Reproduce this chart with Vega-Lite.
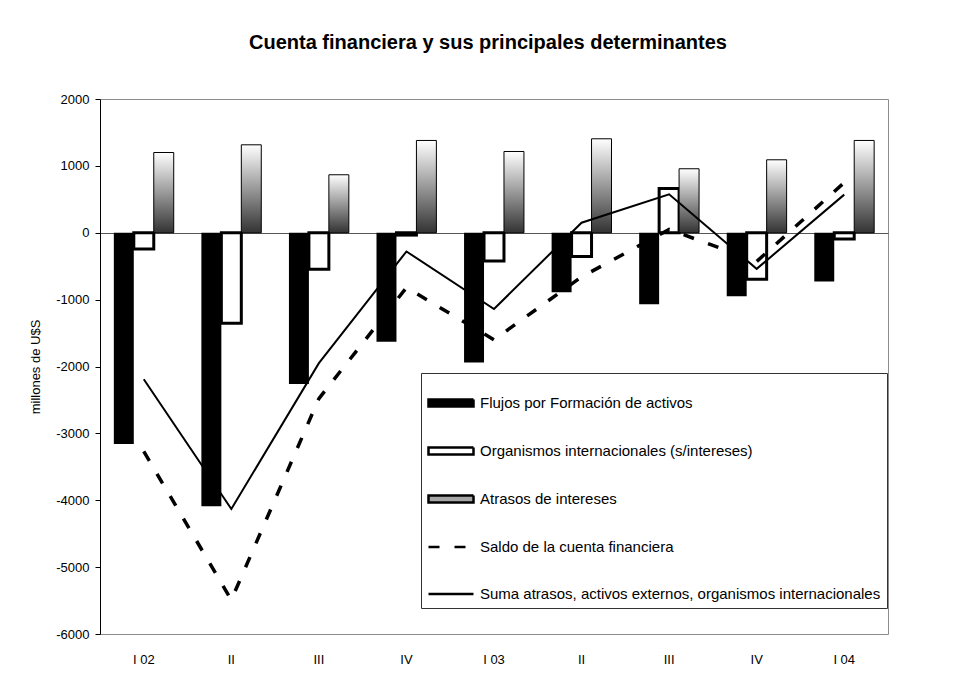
{
  "$schema": "https://vega.github.io/schema/vega-lite/v6.json",
  "width": 788,
  "height": 535,
  "autosize": {"type": "none"},
  "padding": {"left": 100, "top": 99, "right": 85, "bottom": 40},
  "background": "white",
  "title": {
    "text": "Cuenta financiera y sus principales determinantes",
    "font": "Liberation Sans", "fontSize": 20, "fontWeight": "bold", "color": "black",
    "anchor": "middle", "dx": -6, "offset": 40
  },
  "data": {
    "values": [
      {"q": "I 02", "serie": "Flujos por Formación de activos", "v": -3160},
      {"q": "II 02", "serie": "Flujos por Formación de activos", "v": -4090},
      {"q": "III 02", "serie": "Flujos por Formación de activos", "v": -2260},
      {"q": "IV 02", "serie": "Flujos por Formación de activos", "v": -1630},
      {"q": "I 03", "serie": "Flujos por Formación de activos", "v": -1940},
      {"q": "II 03", "serie": "Flujos por Formación de activos", "v": -890},
      {"q": "III 03", "serie": "Flujos por Formación de activos", "v": -1070},
      {"q": "IV 03", "serie": "Flujos por Formación de activos", "v": -950},
      {"q": "I 04", "serie": "Flujos por Formación de activos", "v": -730},
      {"q": "I 02", "serie": "Organismos internacionales (s/intereses)", "v": -242},
      {"q": "II 02", "serie": "Organismos internacionales (s/intereses)", "v": -1353},
      {"q": "III 02", "serie": "Organismos internacionales (s/intereses)", "v": -546},
      {"q": "IV 02", "serie": "Organismos internacionales (s/intereses)", "v": -35},
      {"q": "I 03", "serie": "Organismos internacionales (s/intereses)", "v": -422},
      {"q": "II 03", "serie": "Organismos internacionales (s/intereses)", "v": -356},
      {"q": "III 03", "serie": "Organismos internacionales (s/intereses)", "v": 661},
      {"q": "IV 03", "serie": "Organismos internacionales (s/intereses)", "v": -695},
      {"q": "I 04", "serie": "Organismos internacionales (s/intereses)", "v": -93},
      {"q": "I 02", "serie": "Atrasos de intereses", "v": 1200},
      {"q": "II 02", "serie": "Atrasos de intereses", "v": 1315},
      {"q": "III 02", "serie": "Atrasos de intereses", "v": 867},
      {"q": "IV 02", "serie": "Atrasos de intereses", "v": 1380},
      {"q": "I 03", "serie": "Atrasos de intereses", "v": 1215},
      {"q": "II 03", "serie": "Atrasos de intereses", "v": 1405},
      {"q": "III 03", "serie": "Atrasos de intereses", "v": 957},
      {"q": "IV 03", "serie": "Atrasos de intereses", "v": 1091},
      {"q": "I 04", "serie": "Atrasos de intereses", "v": 1380},
      {"q": "I 02", "serie": "Saldo de la cuenta financiera", "v": -3270},
      {"q": "II 02", "serie": "Saldo de la cuenta financiera", "v": -5490},
      {"q": "III 02", "serie": "Saldo de la cuenta financiera", "v": -2480},
      {"q": "IV 02", "serie": "Saldo de la cuenta financiera", "v": -820},
      {"q": "I 03", "serie": "Saldo de la cuenta financiera", "v": -1600},
      {"q": "II 03", "serie": "Saldo de la cuenta financiera", "v": -660},
      {"q": "III 03", "serie": "Saldo de la cuenta financiera", "v": 50},
      {"q": "IV 03", "serie": "Saldo de la cuenta financiera", "v": -430},
      {"q": "I 04", "serie": "Saldo de la cuenta financiera", "v": 750},
      {"q": "I 02", "serie": "Suma atrasos, activos externos, organismos internacionales", "v": -2190},
      {"q": "II 02", "serie": "Suma atrasos, activos externos, organismos internacionales", "v": -4130},
      {"q": "III 02", "serie": "Suma atrasos, activos externos, organismos internacionales", "v": -1950},
      {"q": "IV 02", "serie": "Suma atrasos, activos externos, organismos internacionales", "v": -280},
      {"q": "I 03", "serie": "Suma atrasos, activos externos, organismos internacionales", "v": -1140},
      {"q": "II 03", "serie": "Suma atrasos, activos externos, organismos internacionales", "v": 150},
      {"q": "III 03", "serie": "Suma atrasos, activos externos, organismos internacionales", "v": 575},
      {"q": "IV 03", "serie": "Suma atrasos, activos externos, organismos internacionales", "v": -540},
      {"q": "I 04", "serie": "Suma atrasos, activos externos, organismos internacionales", "v": 570}
    ]
  },
  "encoding": {
    "x": {
      "field": "q", "type": "nominal", "title": null,
      "sort": ["I 02", "II 02", "III 02", "IV 02", "I 03", "II 03", "III 03", "IV 03", "I 04"],
      "scale": {"paddingInner": 0.316, "paddingOuter": 0.158},
      "axis": {
        "domain": false, "ticks": false, "labelPadding": 19, "labelAngle": 0,
        "labelFont": "Liberation Sans", "labelFontSize": 13, "labelColor": "black",
        "labelExpr": "indexof(datum.value, 'I ') == 0 ? datum.value : split(datum.value, ' ')[0]"
      }
    },
    "y": {
      "field": "v", "type": "quantitative", "title": "millones de U$S",
      "scale": {"domain": [-6000, 2000], "nice": false, "zero": false},
      "axis": {
        "values": [-6000, -5000, -4000, -3000, -2000, -1000, 0, 1000, 2000],
        "labelExpr": "'' + datum.value", "labelFont": "Liberation Sans", "labelFontSize": 13, "labelColor": "black",
        "labelPadding": 6, "tickSize": 5, "tickColor": "black", "domainColor": "black",
        "titleFont": "Liberation Sans", "titleFontSize": 13, "titleFontWeight": "normal", "titleColor": "black",
        "titlePadding": 13,
        "grid": true, "gridColor": "#555555",
        "gridOpacity": {"condition": {"test": "datum.value === 0", "value": 1}, "value": 0}
      }
    }
  },
  "layer": [
    {
      "transform": [{"filter": "datum.serie === 'Flujos por Formación de activos'"}],
      "mark": {"type": "bar"},
      "encoding": {
        "xOffset": {"field": "serie", "type": "nominal", "scale": {"domain": ["Flujos por Formación de activos", "Organismos internacionales (s/intereses)", "Atrasos de intereses"], "paddingInner": 0, "paddingOuter": 0}},
        "color": {
          "field": "serie", "type": "nominal",
          "scale": {"domain": ["Flujos por Formación de activos", "Organismos internacionales (s/intereses)", "Atrasos de intereses", "Saldo de la cuenta financiera", "Suma atrasos, activos externos, organismos internacionales"], "range": ["black", "white", "#a6a6a6", "transparent", "transparent"]},
          "legend": {"orient": "none", "legendX": 321, "legendY": 274, "title": null, "padding": 6, "strokeColor": "#333333", "fillColor": "white", "labelFont": "Liberation Sans", "labelFontSize": 15, "labelColor": "black", "labelLimit": 480, "labelOffset": 5, "symbolSize": 2025, "symbolStrokeWidth": 2.5, "symbolOpacity": 1, "rowPadding": 15}
        }
      }
    },
    {
      "transform": [{"filter": "datum.serie === 'Organismos internacionales (s/intereses)'"}],
      "mark": {"type": "bar", "strokeWidth": 3},
      "encoding": {
        "xOffset": {"field": "serie", "type": "nominal", "scale": {"domain": ["Flujos por Formación de activos", "Organismos internacionales (s/intereses)", "Atrasos de intereses"], "paddingInner": 0, "paddingOuter": 0}},
        "color": {
          "field": "serie", "type": "nominal",
          "scale": {"domain": ["Flujos por Formación de activos", "Organismos internacionales (s/intereses)", "Atrasos de intereses", "Saldo de la cuenta financiera", "Suma atrasos, activos externos, organismos internacionales"], "range": ["black", "white", "#a6a6a6", "transparent", "transparent"]},
          "legend": {"orient": "none", "legendX": 321, "legendY": 274, "title": null, "padding": 6, "strokeColor": "#333333", "fillColor": "white", "labelFont": "Liberation Sans", "labelFontSize": 15, "labelColor": "black", "labelLimit": 480, "labelOffset": 5, "symbolSize": 2025, "symbolStrokeWidth": 2.5, "symbolOpacity": 1, "rowPadding": 15}
        },
        "stroke": {
          "field": "serie", "type": "nominal",
          "scale": {"domain": ["Flujos por Formación de activos", "Organismos internacionales (s/intereses)", "Atrasos de intereses", "Saldo de la cuenta financiera", "Suma atrasos, activos externos, organismos internacionales"], "range": ["black", "black", "black", "black", "black"]},
          "legend": {"orient": "none", "legendX": 321, "legendY": 274, "title": null, "padding": 6, "strokeColor": "#333333", "fillColor": "white", "labelFont": "Liberation Sans", "labelFontSize": 15, "labelColor": "black", "labelLimit": 480, "labelOffset": 5, "symbolSize": 2025, "symbolStrokeWidth": 2.5, "symbolOpacity": 1, "rowPadding": 15}
        }
      }
    },
    {
      "transform": [{"filter": "datum.serie === 'Atrasos de intereses'"}],
      "mark": {"type": "bar", "strokeWidth": 1},
      "encoding": {
        "xOffset": {"field": "serie", "type": "nominal", "scale": {"domain": ["Flujos por Formación de activos", "Organismos internacionales (s/intereses)", "Atrasos de intereses"], "paddingInner": 0, "paddingOuter": 0}},
        "fill": {"value": {"gradient": "linear", "x1": 0, "y1": 0, "x2": 0, "y2": 1, "stops": [{"offset": 0, "color": "#ffffff"}, {"offset": 1, "color": "#333333"}]}},
        "stroke": {
          "field": "serie", "type": "nominal",
          "scale": {"domain": ["Flujos por Formación de activos", "Organismos internacionales (s/intereses)", "Atrasos de intereses", "Saldo de la cuenta financiera", "Suma atrasos, activos externos, organismos internacionales"], "range": ["black", "black", "black", "black", "black"]},
          "legend": {"orient": "none", "legendX": 321, "legendY": 274, "title": null, "padding": 6, "strokeColor": "#333333", "fillColor": "white", "labelFont": "Liberation Sans", "labelFontSize": 15, "labelColor": "black", "labelLimit": 480, "labelOffset": 5, "symbolSize": 2025, "symbolStrokeWidth": 2.5, "symbolOpacity": 1, "rowPadding": 15}
        }
      }
    },
    {
      "transform": [{"filter": "datum.serie === 'Saldo de la cuenta financiera'"}],
      "mark": {"type": "line", "strokeWidth": 3.5, "strokeCap": "butt"},
      "encoding": {
        "stroke": {
          "field": "serie", "type": "nominal",
          "scale": {"domain": ["Flujos por Formación de activos", "Organismos internacionales (s/intereses)", "Atrasos de intereses", "Saldo de la cuenta financiera", "Suma atrasos, activos externos, organismos internacionales"], "range": ["black", "black", "black", "black", "black"]},
          "legend": {"orient": "none", "legendX": 321, "legendY": 274, "title": null, "padding": 6, "strokeColor": "#333333", "fillColor": "white", "labelFont": "Liberation Sans", "labelFontSize": 15, "labelColor": "black", "labelLimit": 480, "labelOffset": 5, "symbolSize": 2025, "symbolStrokeWidth": 2.5, "symbolOpacity": 1, "rowPadding": 15}
        },
        "strokeDash": {
          "field": "serie", "type": "nominal",
          "scale": {"domain": ["Flujos por Formación de activos", "Organismos internacionales (s/intereses)", "Atrasos de intereses", "Saldo de la cuenta financiera", "Suma atrasos, activos externos, organismos internacionales"], "range": [[1, 0], [1, 0], [1, 0], [11, 15], [1, 0]]},
          "legend": {"orient": "none", "legendX": 321, "legendY": 274, "title": null, "padding": 6, "strokeColor": "#333333", "fillColor": "white", "labelFont": "Liberation Sans", "labelFontSize": 15, "labelColor": "black", "labelLimit": 480, "labelOffset": 5, "symbolSize": 2025, "symbolStrokeWidth": 2.5, "symbolOpacity": 1, "rowPadding": 15}
        }
      }
    },
    {
      "transform": [{"filter": "datum.serie === 'Suma atrasos, activos externos, organismos internacionales'"}],
      "mark": {"type": "line", "strokeWidth": 2},
      "encoding": {
        "stroke": {
          "field": "serie", "type": "nominal",
          "scale": {"domain": ["Flujos por Formación de activos", "Organismos internacionales (s/intereses)", "Atrasos de intereses", "Saldo de la cuenta financiera", "Suma atrasos, activos externos, organismos internacionales"], "range": ["black", "black", "black", "black", "black"]},
          "legend": {"orient": "none", "legendX": 321, "legendY": 274, "title": null, "padding": 6, "strokeColor": "#333333", "fillColor": "white", "labelFont": "Liberation Sans", "labelFontSize": 15, "labelColor": "black", "labelLimit": 480, "labelOffset": 5, "symbolSize": 2025, "symbolStrokeWidth": 2.5, "symbolOpacity": 1, "rowPadding": 15}
        }
      }
    },
    {
      "mark": {"type": "point", "opacity": 0, "size": 1, "filled": true},
      "encoding": {
        "shape": {
          "field": "serie", "type": "nominal",
          "scale": {"domain": ["Flujos por Formación de activos", "Organismos internacionales (s/intereses)", "Atrasos de intereses", "Saldo de la cuenta financiera", "Suma atrasos, activos externos, organismos internacionales"], "range": ["M-1,-0.16H1V0.16H-1Z", "M-1,-0.16H1V0.16H-1Z", "M-1,-0.16H1V0.16H-1Z", "M-1,0H1", "M-1,0H1"]},
          "legend": {"orient": "none", "legendX": 321, "legendY": 274, "title": null, "padding": 6, "strokeColor": "#333333", "fillColor": "white", "labelFont": "Liberation Sans", "labelFontSize": 15, "labelColor": "black", "labelLimit": 480, "labelOffset": 5, "symbolSize": 2025, "symbolStrokeWidth": 2.5, "symbolOpacity": 1, "rowPadding": 15}
        }
      }
    }
  ],
  "config": {
    "view": {"stroke": "#8c8c8c", "strokeWidth": 1},
    "font": "Liberation Sans"
  }
}
